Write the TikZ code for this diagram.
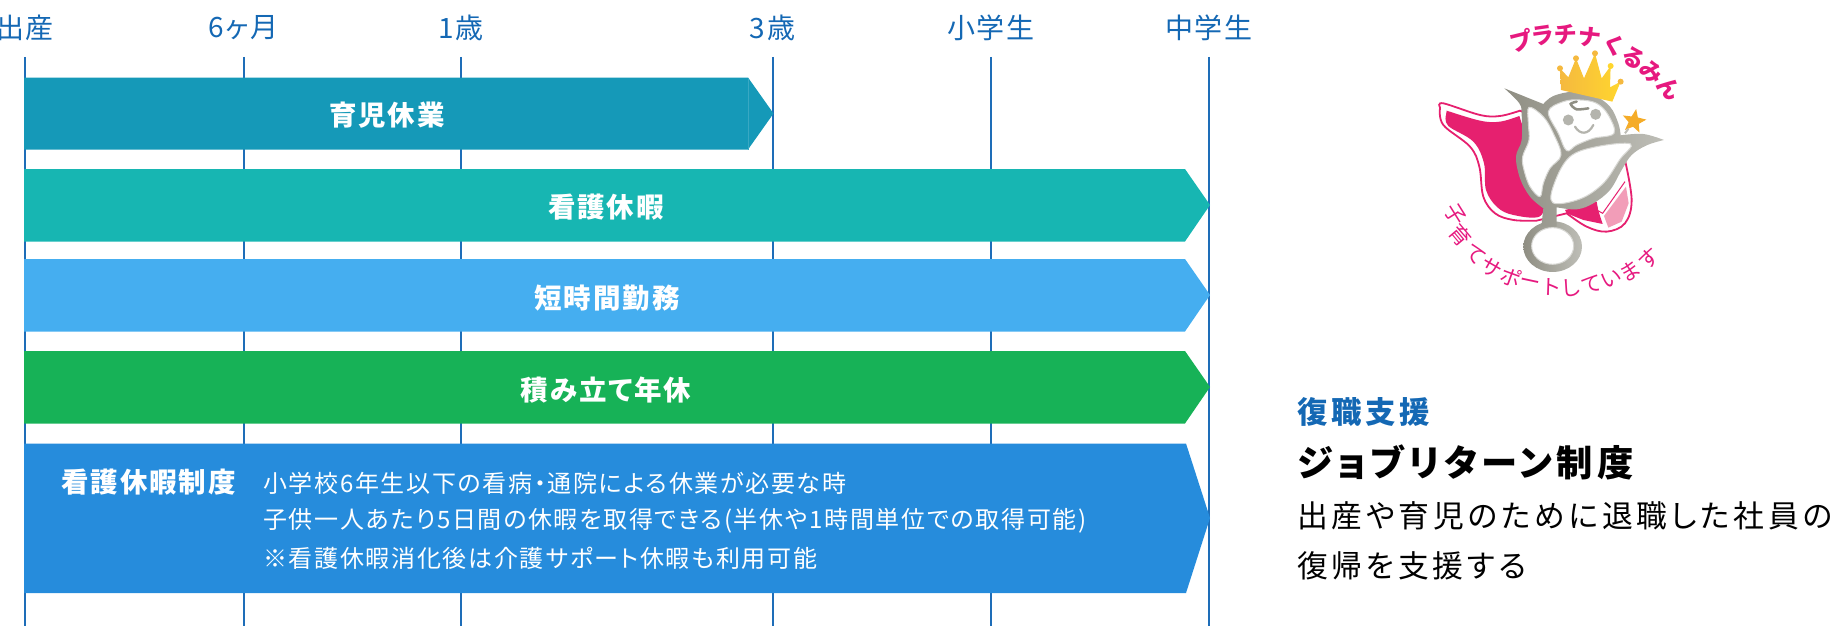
\documentclass[tikz,border=0pt]{standalone}
\usepackage{fontspec}
\setmainfont[RawFeature=+palt]{Noto Sans CJK JP}
\newfontfamily\spacedTwo[RawFeature=+palt,LetterSpace=7]{Noto Sans CJK JP}
\newfontfamily\spacedTen[RawFeature=+palt,LetterSpace=12]{Noto Sans CJK JP}
\usetikzlibrary{shapes, calc, positioning}
\definecolor{tickBlue}{HTML}{1E6DB8}
\definecolor{labelBlue}{HTML}{1468B4}
\definecolor{leaveColor}{HTML}{1599B8}
\definecolor{nursingColor}{HTML}{17B6B2}
\definecolor{shortColor}{HTML}{45AEF0}
\definecolor{savedColor}{HTML}{17B257}
\definecolor{systemColor}{HTML}{268CDC}
\definecolor{capePink}{HTML}{E6206F}
\definecolor{palePink}{HTML}{F29DB8}
\definecolor{markPink}{HTML}{E6197F}
\definecolor{silverDark}{HTML}{8F8E83}
\definecolor{silverLight}{HTML}{BEBEB7}
\definecolor{crownGold}{HTML}{F5B93F}
\definecolor{crownLight}{HTML}{FFD62E}
\definecolor{starGold}{HTML}{F5AC28}
\definecolor{faceGray}{HTML}{B4B4AD}
\tikzstyle{tick}=[text=labelBlue,font=\spacedTwo\fontsize{28}{32}\selectfont,inner sep=0pt]
\tikzstyle{tickLine}=[draw=tickBlue,line width=2pt]
\tikzstyle{barLabel}=[text=white,font=\spacedTwo\bfseries\fontsize{27.5}{32}\selectfont,inner sep=0pt]
\tikzstyle{systemLabel}=[text=white,font=\spacedTwo\bfseries\fontsize{27.5}{32}\selectfont,inner sep=0pt,anchor=west]
\tikzstyle{systemText}=[text=white,font=\spacedTwo\fontsize{24}{28}\selectfont,inner sep=0pt,anchor=west]
\tikzstyle{sideText}=[font=\spacedTen\fontsize{30.8}{36}\selectfont,inner sep=0pt,anchor=west]
\tikzstyle{markTop}=[text=markPink,font=\bfseries\fontsize{23}{26}\selectfont,inner sep=0pt]
\tikzstyle{markBottom}=[text=markPink,font=\fontsize{21}{24}\selectfont,inner sep=0pt]
\tikzstyle{silver}=[left color=silverDark,right color=silverLight]
\tikzstyle{hollow}=[fill=white,draw=silverLight!60!white,line width=1pt]
\tikzstyle{eye}=[circle,fill=faceGray,inner sep=0pt,minimum size=11pt]
\tikzstyle{ball}=[circle,fill=crownGold,inner sep=0pt,minimum size=6pt]

\begin{document}
\begin{tikzpicture}[x=1pt,y=-1pt]
    \useasboundingbox (0,0) rectangle (1830,626);

    \node (birth)[tick] at (25, 28) {出産};
    \node (halfYear)[tick] at (243.5, 28) {6ヶ月};
    \node (oneYear)[tick] at (461, 28) {1歳};
    \node (threeYear)[tick] at (772.5, 28) {3歳};
    \node (elementary)[tick] at (991, 28) {小学生};
    \node (juniorHigh)[tick] at (1209, 28) {中学生};

    \coordinate (birthTop) at (25, 57);
    \coordinate (birthEnd) at (25, 626);
    \coordinate (halfYearTop) at (243.5, 57);
    \coordinate (halfYearEnd) at (243.5, 626);
    \coordinate (oneYearTop) at (461, 57);
    \coordinate (oneYearEnd) at (461, 626);
    \coordinate (threeYearTop) at (772.5, 57);
    \coordinate (threeYearEnd) at (772.5, 626);
    \coordinate (elementaryTop) at (991, 57);
    \coordinate (elementaryEnd) at (991, 626);
    \coordinate (juniorHighTop) at (1209, 57);
    \coordinate (juniorHighEnd) at (1209, 626);
    \draw[tickLine] (birthTop) -- (birthEnd);
    \draw[tickLine] (halfYearTop) -- (halfYearEnd);
    \draw[tickLine] (oneYearTop) -- (oneYearEnd);
    \draw[tickLine] (threeYearTop) -- (threeYearEnd);
    \draw[tickLine] (elementaryTop) -- (elementaryEnd);
    \draw[tickLine] (juniorHighTop) -- (juniorHighEnd);

    \fill[leaveColor] (24,77.5) -- (748,77.5) -- (773.5,113.5) -- (748,149.5) -- (24,149.5) -- cycle;
    \fill[nursingColor] (24,169) -- (1185,169) -- (1210,205) -- (1185,241.5) -- (24,241.5) -- cycle;
    \fill[shortColor] (24,259) -- (1185,259) -- (1210,295) -- (1185,331.5) -- (24,331.5) -- cycle;
    \fill[savedColor] (24,351) -- (1185,351) -- (1210,387) -- (1185,423.5) -- (24,423.5) -- cycle;
    \fill[systemColor] (24,443.5) -- (1186,443.5) -- (1210,518) -- (1186,593) -- (24,593) -- cycle;
    \draw[leaveColor!85!white] (748,77.5) -- (748,149.5);

    \node (leave)[barLabel] at (387, 115.5) {育児休業};
    \node (nursing)[barLabel] at (606, 207.5) {看護休暇};
    \node (shortTime)[barLabel] at (607, 298.5) {短時間勤務};
    \node (saved)[barLabel] at (606, 390.5) {積み立て年休};
    \node (system)[systemLabel] at (61, 482) {看護休暇制度};
    \node (line1)[systemText] at (263, 483) {小学校6年生以下の看病・通院による休業が必要な時};
    \node (line2)[systemText] at (263, 520.5) {子供一人あたり5日間の休暇を取得できる(半休や1時間単位での取得可能)};
    \node (line3)[systemText] at (263, 558) {※看護休暇消化後は介護サポート休暇も利用可能};

    \node (support)[sideText,text=labelBlue,font=\spacedTen\bfseries\fontsize{30.4}{36}\selectfont] at (1297, 412) {復職支援};
    \node (jobReturn)[sideText,font=\spacedTen\bfseries\fontsize{36.3}{42}\selectfont] at (1297, 462) {ジョブリターン制度};
    \node (desc1)[sideText] at (1297, 516) {出産や育児のために退職した社員の};
    \node (desc2)[sideText] at (1297, 566) {復帰を支援する};

    % mark
    \begin{scope}[shift={(1380,0)},x=0.3333pt,y=-0.3333pt]
    \filldraw[fill=white,draw=capePink,line width=1.8pt]
        plot[smooth,tension=0.6] coordinates {(180,322) (190,310) (300,345) (360,348) (420,332)}
        -- plot[smooth,tension=0.6] coordinates {(735,480) (755,600) (735,670) (680,695) (620,680) (560,640)}
        -- plot[smooth,tension=0.6] coordinates {(470,662) (400,660) (345,640) (310,590) (298,500) (270,440) (190,375) (180,325)}
        -- cycle;
    \fill[capePink]
        plot[smooth,tension=0.6] coordinates {(200,332) (300,362) (360,365) (418,348)}
        -- plot[smooth,tension=0.6] coordinates {(500,600) (478,650) (400,645) (352,622) (318,570) (312,490) (280,425) (205,378) (198,345)}
        -- cycle;
    \fill[capePink] (555,630) -- (650,605) -- (655,632) -- (668,672) -- (610,660) -- (560,640) -- cycle;
    \fill[palePink] (672,648) -- (738,560) -- (746,610) -- (725,665) -- (685,683) -- cycle;
    \draw[capePink,line width=1pt] (650,630) -- (668,640) -- (735,545);

    \shade[silver] (518,740) ellipse (88 and 76);
    \shade[silver]
        plot[smooth,tension=0.6] coordinates {(373,265) (440,292) (490,312)}
        -- plot[smooth,tension=0.6] coordinates {(490,312) (520,288) (580,275) (640,285) (690,320) (715,370) (722,406)}
        -- plot[smooth,tension=0.6] coordinates {(722,406) (790,402) (852,420)}
        -- plot[smooth,tension=0.6] coordinates {(852,420) (800,436) (755,465) (725,510) (690,570) (640,610) (590,628) (530,622)}
        -- (530,680) -- (484,680) --
        plot[smooth,tension=0.6] coordinates {(490,625) (450,590) (420,535) (408,470) (425,420) (425,345) (418,310) (373,265)}
        -- cycle;
    \filldraw[hollow] (518,738) ellipse (63 and 55);
    \filldraw[hollow] plot[smooth cycle,tension=0.6] coordinates {(447,322) (490,350) (520,400) (543,465) (510,505) (490,550) (480,590) (450,560) (432,510) (428,470) (447,420) (445,370)};
    \filldraw[hollow] plot[smooth cycle,tension=0.6] coordinates {(505,335) (550,305) (600,300) (650,310) (685,345) (702,400) (640,415) (590,435) (560,452) (535,400)};
    \filldraw[hollow] plot[smooth cycle,tension=0.6] coordinates {(752,432) (650,440) (570,470) (525,545) (518,608) (600,597) (670,550) (720,478)};
    \draw[silverDark,line width=2.5pt,line cap=round] plot[smooth] coordinates {(590,305) (572,312) (590,328) (625,325)};

    \node (eyeLeft)[eye] at (565,360) {};
    \node (eyeRight)[eye] at (647,343) {};
    \coordinate (smileLeft) at (585,380);
    \coordinate (smileRight) at (640,375);
    \draw[faceGray,line width=2.2pt,line cap=round] (smileLeft) .. controls (600,405) and (625,405) .. (smileRight);

    \shade[left color=crownGold,right color=crownLight]
        (543,270) -- (540,205) -- (565,232) -- (588,175) -- (612,235) -- (645,160) -- (665,235) -- (692,198) -- (690,262) -- (722,245) -- (697,305) -- cycle;
    \node (ball1)[ball] at (540,205) {};
    \node (ball2)[ball] at (588,175) {};
    \node (ball3)[ball] at (645,160) {};
    \node (ball4)[ball,fill=crownLight] at (692,198) {};
    \node (ball5)[ball] at (722,245) {};

    \coordinate (wandEnd) at (735,400);
    \node (wandStar)[star,star points=5,star point ratio=2.3,fill=starGold,inner sep=0pt,minimum size=25pt,rotate=-10] at (762,364) {};
    \draw[silverLight,line width=2pt] (wandEnd) -- (wandStar);

    \node (m1)[markTop,rotate=14] at (425,122) {プ};
    \node (m2)[markTop,rotate=8] at (490,108) {ラ};
    \node (m3)[markTop,rotate=2] at (558,105) {チ};
    \node (m4)[markTop,rotate=-6] at (628,112) {ナ};
    \node (m5)[markTop,rotate=-20] at (700,135) {く};
    \node (m6)[markTop,rotate=-30] at (760,175) {る};
    \node (m7)[markTop,rotate=-38] at (815,215) {み};
    \node (m8)[markTop,rotate=-48] at (870,265) {ん};

    \node (b1)[markBottom,rotate=-58] at (225,645) {子};
    \node (b2)[markBottom,rotate=-50] at (240,705) {育};
    \node (b3)[markBottom,rotate=-40] at (285,765) {て};
    \node (b4)[markBottom,rotate=-30] at (335,805) {サ};
    \node (b5)[markBottom,rotate=-20] at (392,832) {ポ};
    \node (b6)[markBottom,rotate=-12] at (450,852) {ー};
    \node (b7)[markBottom,rotate=-2] at (515,862) {ト};
    \node (b8)[markBottom,rotate=5] at (575,865) {し};
    \node (b9)[markBottom,rotate=15] at (635,855) {て};
    \node (b10)[markBottom,rotate=22] at (695,838) {い};
    \node (b11)[markBottom,rotate=32] at (750,815) {ま};
    \node (b12)[markBottom,rotate=42] at (808,775) {す};
    \end{scope}

\end{tikzpicture}
\end{document}
